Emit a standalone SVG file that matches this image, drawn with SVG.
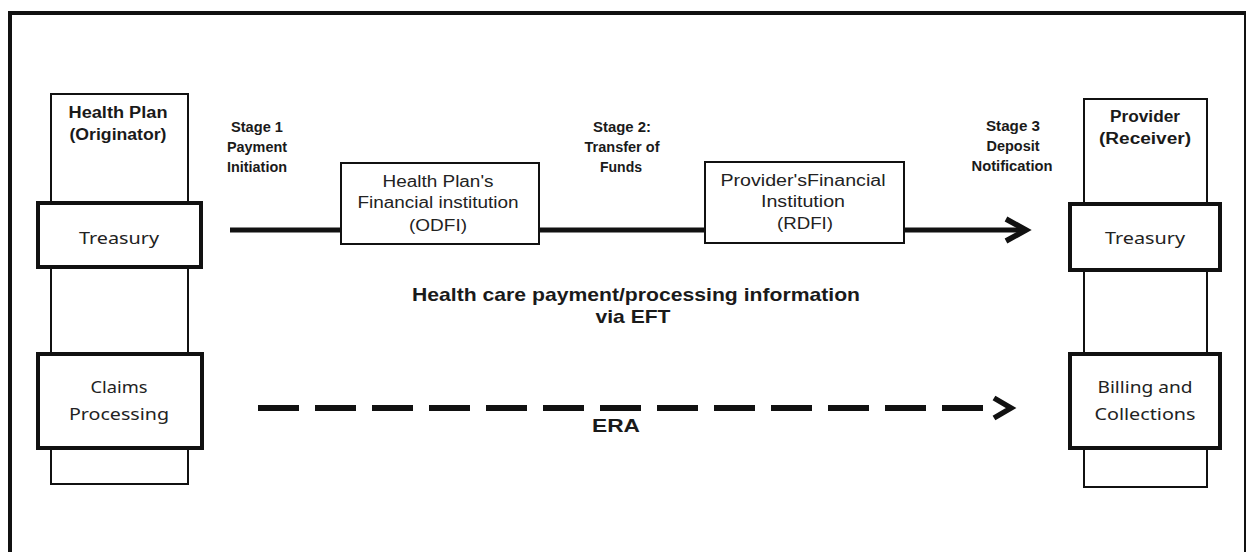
<svg xmlns="http://www.w3.org/2000/svg" width="1247" height="552" viewBox="0 0 1247 552">
<style>
.thin{fill:#fff;stroke:#111;stroke-width:2}
.thick{fill:#fff;stroke:#111;stroke-width:4}
.fi{fill:#fff;stroke:#111;stroke-width:2}
.hdr{font-family:"Liberation Sans",Arial,sans-serif;font-weight:bold;font-size:16px;fill:#1a1a1a;text-anchor:middle}
.stg{font-family:"Liberation Sans",Arial,sans-serif;font-weight:bold;font-size:14px;fill:#1a1a1a;text-anchor:middle}
.cal{font-family:"Noto Sans","Open Sans",sans-serif;font-size:16px;fill:#222;text-anchor:middle}
.ari{font-family:"Liberation Sans",Arial,sans-serif;font-size:16px;fill:#222;text-anchor:middle}
.big{font-family:"Liberation Sans",Arial,sans-serif;font-weight:bold;font-size:19px;fill:#1a1a1a;text-anchor:middle}
.conn{fill:none;stroke:#111}
</style>
<rect width="1247" height="552" fill="#fff"/>
<g id="frame">
<path d="M10,560 L10,13 L1246,13" fill="none" stroke="#111" stroke-width="4"/>
<line x1="1245" y1="13" x2="1245" y2="560" stroke="#111" stroke-width="2"/>
</g>
<g id="connectors">
<line class="conn" x1="230" y1="230" x2="1022" y2="230" stroke-width="5"/>
<polyline class="conn" points="1006,219 1026,230 1006,241" stroke-width="5.5"/>
<line class="conn" x1="258" y1="408" x2="984" y2="408" stroke-width="6" stroke-dasharray="41 16"/>
<polyline class="conn" points="994,398 1011,408 994,418" stroke-width="5.5"/>
</g>
<g id="health-plan">
<rect class="thin" x="51" y="94" width="137" height="390"/>
<text class="hdr" x="118" y="118" textLength="99" lengthAdjust="spacingAndGlyphs">Health Plan</text>
<text class="hdr" x="118" y="140" textLength="97" lengthAdjust="spacingAndGlyphs">(Originator)</text>
</g>
<g id="hp-treasury">
<rect class="thick" x="38" y="203" width="163" height="64"/>
<text class="cal" x="119" y="244" textLength="80" lengthAdjust="spacingAndGlyphs">Treasury</text>
</g>
<g id="claims-processing">
<rect class="thick" x="38" y="354" width="164" height="94"/>
<text class="cal" x="119" y="393" textLength="57" lengthAdjust="spacingAndGlyphs">Claims</text>
<text class="cal" x="119" y="420" textLength="100" lengthAdjust="spacingAndGlyphs">Processing</text>
</g>
<g id="provider">
<rect class="thin" x="1084" y="99" width="123" height="388"/>
<text class="hdr" x="1145" y="122" textLength="70" lengthAdjust="spacingAndGlyphs">Provider</text>
<text class="hdr" x="1145" y="144" textLength="92" lengthAdjust="spacingAndGlyphs">(Receiver)</text>
</g>
<g id="pr-treasury">
<rect class="thick" x="1070" y="204" width="150" height="66"/>
<text class="cal" x="1145" y="244" textLength="80" lengthAdjust="spacingAndGlyphs">Treasury</text>
</g>
<g id="billing-collections">
<rect class="thick" x="1070" y="354" width="150" height="94"/>
<text class="cal" x="1145" y="393" textLength="95" lengthAdjust="spacingAndGlyphs">Billing and</text>
<text class="cal" x="1145" y="420" textLength="101" lengthAdjust="spacingAndGlyphs">Collections</text>
</g>
<g id="odfi">
<rect class="fi" x="341" y="163" width="198" height="81"/>
<text class="ari" x="438" y="187" textLength="111" lengthAdjust="spacingAndGlyphs">Health Plan's</text>
<text class="ari" x="438" y="208" textLength="161" lengthAdjust="spacingAndGlyphs">Financial institution</text>
<text class="ari" x="438" y="231" textLength="58" lengthAdjust="spacingAndGlyphs">(ODFI)</text>
</g>
<g id="rdfi">
<rect class="fi" x="705" y="162" width="199" height="81"/>
<text class="ari" x="803" y="186" textLength="165" lengthAdjust="spacingAndGlyphs">Provider'sFinancial</text>
<text class="ari" x="803" y="207" textLength="84" lengthAdjust="spacingAndGlyphs">Institution</text>
<text class="ari" x="805" y="229" textLength="56" lengthAdjust="spacingAndGlyphs">(RDFI)</text>
</g>
<g id="stage1">
<text class="stg" x="257" y="132" textLength="52" lengthAdjust="spacingAndGlyphs">Stage 1</text>
<text class="stg" x="257" y="152" textLength="60" lengthAdjust="spacingAndGlyphs">Payment</text>
<text class="stg" x="257" y="172" textLength="60" lengthAdjust="spacingAndGlyphs">Initiation</text>
</g>
<g id="stage2">
<text class="stg" x="622" y="132" textLength="58" lengthAdjust="spacingAndGlyphs">Stage 2:</text>
<text class="stg" x="622" y="152" textLength="75" lengthAdjust="spacingAndGlyphs">Transfer of</text>
<text class="stg" x="621" y="172" textLength="42" lengthAdjust="spacingAndGlyphs">Funds</text>
</g>
<g id="stage3">
<text class="stg" x="1013" y="131" textLength="54" lengthAdjust="spacingAndGlyphs">Stage 3</text>
<text class="stg" x="1013" y="151" textLength="53" lengthAdjust="spacingAndGlyphs">Deposit</text>
<text class="stg" x="1012" y="171" textLength="81" lengthAdjust="spacingAndGlyphs">Notification</text>
</g>
<g id="eft-label">
<text class="big" x="636" y="301" textLength="448" lengthAdjust="spacingAndGlyphs">Health care payment/processing information</text>
<text class="big" x="633" y="323" textLength="75" lengthAdjust="spacingAndGlyphs">via EFT</text>
</g>
<g id="era-label">
<text class="big" x="616" y="432" textLength="48" lengthAdjust="spacingAndGlyphs">ERA</text>
</g>
</svg>
